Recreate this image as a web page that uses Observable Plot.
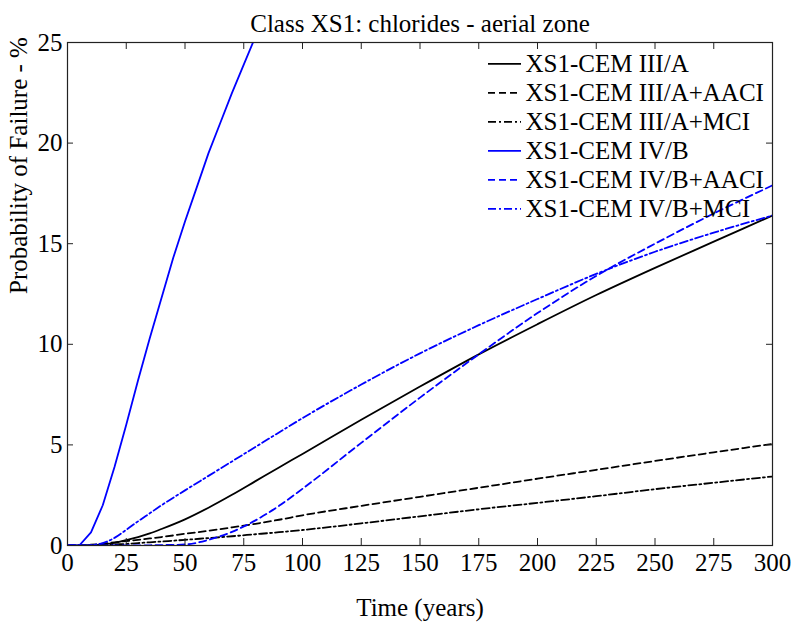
<!DOCTYPE html>
<html><head><meta charset="utf-8">
<script src="https://cdn.jsdelivr.net/npm/d3@7"></script>
<script src="https://cdn.jsdelivr.net/npm/@observablehq/plot@0.6"></script>
<style>body{margin:0;background:#fff}</style>
</head><body><div id="chart"></div>
<script>
// ---- data ----
const titleText = "Class XS1: chlorides - aerial zone";
const xLabel = "Time (years)";
const yLabel = "Probability of Failure - %";
const xTicks = [0, 25, 50, 75, 100, 125, 150, 175, 200, 225, 250, 275, 300];
const yTicks = [0, 5, 10, 15, 20, 25];

const years = [0, 5, 10, 15, 20, 25, 30, 35, 40, 50, 60, 70, 80, 90, 100, 125, 150, 175, 200, 225, 250, 275, 300];
const cemIIIA     = [0, 0, 0.02, 0.06, 0.13, 0.27, 0.42, 0.6, 0.82, 1.3, 1.88, 2.52, 3.2, 3.88, 4.55, 6.25, 7.9, 9.5, 11.0, 12.45, 13.8, 15.1, 16.4];
const cemIIIAaaci = [0, 0.01, 0.04, 0.09, 0.16, 0.22, 0.28, 0.35, 0.42, 0.58, 0.73, 0.9, 1.08, 1.28, 1.5, 1.97, 2.42, 2.87, 3.32, 3.76, 4.2, 4.63, 5.05];
const cemIIIAmci  = [0, 0, 0.01, 0.02, 0.05, 0.08, 0.12, 0.16, 0.2, 0.28, 0.37, 0.46, 0.56, 0.66, 0.77, 1.1, 1.45, 1.8, 2.12, 2.45, 2.8, 3.12, 3.43];
const cemIVBaaci  = [0, 0, 0, 0, 0, 0, 0, 0.01, 0.02, 0.05, 0.28, 0.68, 1.25, 1.97, 2.82, 5.1, 7.35, 9.5, 11.55, 13.4, 15.0, 16.5, 17.9];
const cemIVBmci   = [0, 0, 0.02, 0.12, 0.38, 0.78, 1.2, 1.6, 2.0, 2.74, 3.46, 4.18, 4.9, 5.62, 6.33, 8.0, 9.55, 10.95, 12.25, 13.5, 14.6, 15.55, 16.4];

const yearsIVB = [0, 5, 10, 15, 20, 25, 30, 35, 40, 45, 50, 55, 60, 65, 70, 75, 80, 85];
const cemIVB   = [0, 0, 0.65, 2.0, 3.9, 6.0, 8.2, 10.3, 12.3, 14.3, 16.1, 17.8, 19.5, 21.0, 22.5, 23.9, 25.3, 26.6];

const seriesNames = ["XS1-CEM III/A", "XS1-CEM III/A+AACI", "XS1-CEM III/A+MCI", "XS1-CEM IV/B", "XS1-CEM IV/B+AACI", "XS1-CEM IV/B+MCI"];
const seriesT = [years, years, years, yearsIVB, years, years];
const seriesV = [cemIIIA, cemIIIAaaci, cemIIIAmci, cemIVB, cemIVBaaci, cemIVBmci];

// ---- styles ----
const colors = ["#000000", "#000000", "#000000", "#0000ff", "#0000ff", "#0000ff"];
const dashes = [null, "7,4", "8,3,2,3", null, "7,4", "8,3,2,3"];
const curves = ["monotone-x", "monotone-x", "monotone-x", "linear", "monotone-x", "monotone-x"];

// ---- layout ----
const W = 793, H = 637, mL = 67, mR = 21, mT = 42, mB = 92;
const xDom = [0, 300], yDom = [0, 25];
const fw = W - mL - mR, fh = H - mT - mB;
const invX = px => xDom[0] + (px - mL) / fw * (xDom[1] - xDom[0]);
const invY = py => yDom[1] - (py - mT) / fh * (yDom[1] - yDom[0]);
const dX = px => px / fw * (xDom[1] - xDom[0]);
const dY = px => px / fh * (yDom[1] - yDom[0]);
const font = "'Liberation Serif', 'Times New Roman', serif";
const fs = 25;

const legendRows = seriesNames.map((s, i) => ({name: s, y: invY(63.3 + i * 29)}));

const marks = [];
// lines
seriesNames.forEach((name, i) => {
  const data = seriesT[i].map((t, j) => ({t, v: seriesV[i][j]}));
  marks.push(Plot.line(data, {x: "t", y: "v", stroke: colors[i], strokeWidth: 1.8,
    strokeDasharray: dashes[i] ?? undefined, curve: curves[i], clip: true}));
});
// legend
legendRows.forEach((r, i) => {
  marks.push(Plot.ruleY([r.y], {x1: invX(488), x2: invX(521), stroke: colors[i], strokeWidth: 1.8,
    strokeDasharray: dashes[i] ?? undefined}));
});
marks.push(Plot.text(legendRows, {x: invX(525), y: "y", text: "name", textAnchor: "start", fontSize: fs, fill: "black"}));
// inward ticks on all four sides
marks.push(Plot.ruleX(xTicks, {x: d => d, y1: yDom[0], y2: yDom[0] + dY(7), stroke: "#222"}));
marks.push(Plot.ruleX(xTicks, {x: d => d, y1: yDom[1], y2: yDom[1] - dY(7), stroke: "#222"}));
marks.push(Plot.ruleY(yTicks, {y: d => d, x1: xDom[0], x2: xDom[0] + dX(6), stroke: "#222"}));
marks.push(Plot.ruleY(yTicks, {y: d => d, x1: xDom[1], x2: xDom[1] - dX(6), stroke: "#222"}));
marks.push(Plot.frame({stroke: "#222", strokeWidth: 1.2}));
// axes (labels only)
marks.push(Plot.axisX(xTicks, {tickSize: 0, tickPadding: 8, fontSize: fs, label: null, fill: "black"}));
marks.push(Plot.axisY(yTicks, {tickSize: 0, tickPadding: 5, fontSize: fs, label: null, fill: "black"}));
// title & axis labels
marks.push(Plot.text([titleText], {frameAnchor: "top", dy: -28, fontSize: fs, fill: "black"}));
marks.push(Plot.text([xLabel], {frameAnchor: "bottom", dy: 70, fontSize: fs, fill: "black"}));
marks.push(Plot.text([yLabel], {frameAnchor: "left", dx: -49, rotate: -90, fontSize: fs, fill: "black"}));

const chart = Plot.plot({
  width: W, height: H,
  marginLeft: mL, marginRight: mR, marginTop: mT, marginBottom: mB,
  x: {domain: xDom},
  y: {domain: yDom},
  style: {fontFamily: font, background: "white", color: "black"},
  marks
});
document.getElementById("chart").appendChild(chart);
</script>
</body></html>
